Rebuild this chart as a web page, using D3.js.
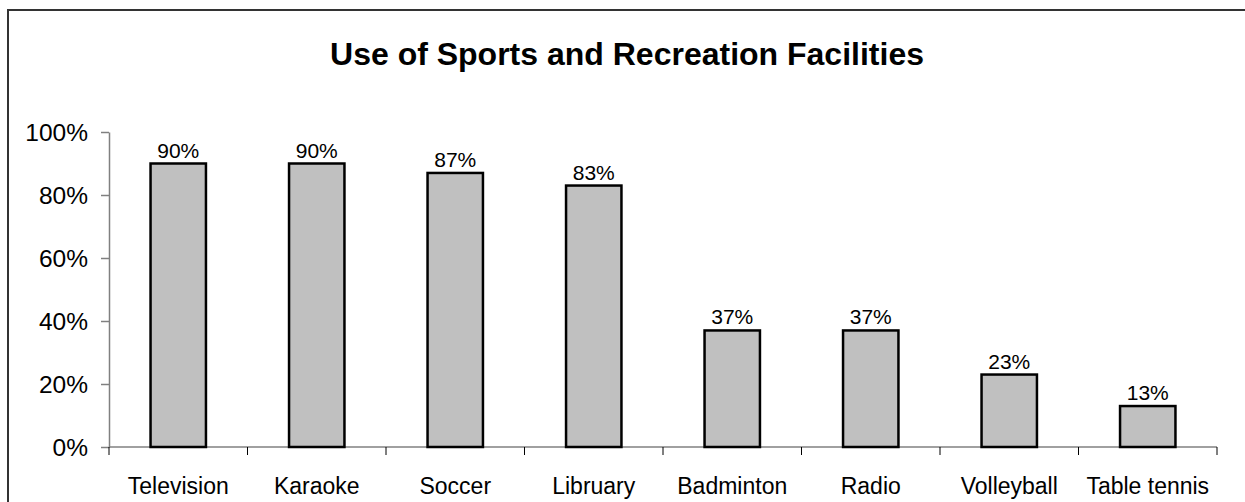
<!DOCTYPE html>
<html>
<head>
<meta charset="utf-8">
<script src="https://cdn.jsdelivr.net/npm/d3@7"></script>
<style>
  body { margin: 0; background: #fff; }
  svg text { font-family: "Liberation Sans", Arial, sans-serif; fill: #000; }
</style>
</head>
<body>
<svg id="chart" width="1245" height="502"></svg>
<script>
const categories = ["Television", "Karaoke", "Soccer", "Libruary", "Badminton", "Radio", "Volleyball", "Table tennis"];
const values = [0.90, 0.90, 0.87, 0.83, 0.37, 0.37, 0.23, 0.13];
const yTicks = [0, 0.2, 0.4, 0.6, 0.8, 1.0];
const titleText = "Use of Sports and Recreation Facilities";

const barFill = "#c0c0c0";
const axisColor = "#808080";
const plotLeft = 109;
const plotRight = 1217;
const plotTop = 132;
const plotBottom = 447;

const svg = d3.select("#chart");

// outer frame (only top and left visible in the crop)
svg.append("path")
  .attr("d", "M8,502 V10 H1245")
  .attr("fill", "none")
  .attr("stroke", "#333")
  .attr("stroke-width", 2);

svg.append("text")
  .attr("x", 627)
  .attr("y", 65)
  .attr("text-anchor", "middle")
  .attr("font-size", 32)
  .attr("font-weight", "bold")
  .text(titleText);

const xScale = d3.scaleBand()
  .domain(categories)
  .range([plotLeft, plotRight])
  .paddingInner(0.6)
  .paddingOuter(0.3);

const xBand = d3.scaleBand().domain(categories).range([plotLeft, plotRight]);

const yScale = d3.scaleLinear().domain([0, 1]).range([plotBottom, plotTop]);

// y axis
const yAxis = svg.append("g")
  .attr("transform", `translate(${plotLeft},0)`)
  .call(d3.axisLeft(yScale).tickValues(yTicks).tickFormat(d3.format(".0%")).tickSize(8).tickSizeOuter(0).tickPadding(13));
yAxis.attr("font-size", 24.5).attr("font-family", null);
yAxis.select(".domain").attr("stroke", axisColor).attr("stroke-width", 1.5);
yAxis.selectAll(".tick line").attr("stroke", axisColor).attr("stroke-width", 1.5);
yAxis.selectAll(".tick text").attr("font-size", 24.5).attr("dy", "0.36em");

// x axis: ticks on band boundaries
const xAxis = svg.append("g").attr("transform", `translate(0,${plotBottom})`);
xAxis.append("line")
  .attr("x1", plotLeft).attr("x2", plotRight)
  .attr("stroke", axisColor).attr("stroke-width", 1.5);
const boundaries = categories.map(c => xBand(c)).concat([plotRight]);
xAxis.selectAll(".xtick")
  .data(boundaries)
  .enter().append("line")
  .attr("x1", d => d).attr("x2", d => d)
  .attr("y1", 0).attr("y2", 8)
  .attr("stroke", "#000").attr("stroke-width", 1);
xAxis.selectAll(".xlabel")
  .data(categories)
  .enter().append("text")
  .attr("x", d => xBand(d) + xBand.bandwidth() / 2)
  .attr("y", 47)
  .attr("text-anchor", "middle")
  .attr("font-size", 23)
  .text(d => d);

// bars
const bars = svg.append("g");
bars.selectAll("rect")
  .data(values)
  .enter().append("rect")
  .attr("x", (d, i) => xScale(categories[i]))
  .attr("y", d => yScale(d))
  .attr("width", xScale.bandwidth())
  .attr("height", d => plotBottom - yScale(d))
  .attr("fill", barFill)
  .attr("stroke", "#000")
  .attr("stroke-width", 2.5);

bars.selectAll("text")
  .data(values)
  .enter().append("text")
  .attr("x", (d, i) => xScale(categories[i]) + xScale.bandwidth() / 2)
  .attr("y", d => yScale(d) - 6)
  .attr("text-anchor", "middle")
  .attr("font-size", 21)
  .text(d => d3.format(".0%")(d));
</script>
</body>
</html>
